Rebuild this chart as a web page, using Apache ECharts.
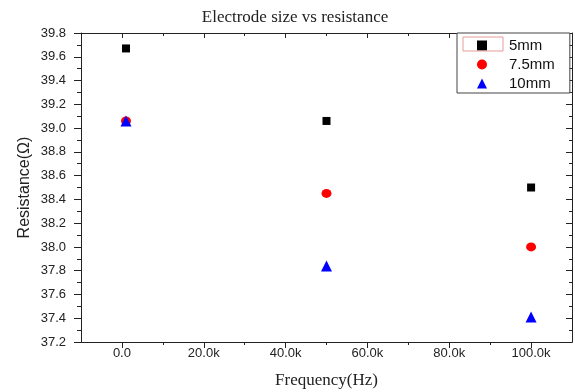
<!DOCTYPE html>
<html>
<head>
<meta charset="utf-8">
<script src="https://cdn.jsdelivr.net/npm/echarts@6/dist/echarts.min.js"></script>
<style>
  html, body { margin: 0; padding: 0; background: #fff; }
  #chart { width: 575px; height: 392px; }
</style>
</head>
<body>
<div id="chart"></div>
<script>
// frequency (Hz) of each measurement
const freq = [1000, 50000, 100000]
const seriesNames = ['5mm', '7.5mm', '10mm']
const r5 = [39.67, 39.06, 38.50]
const r75 = [39.06, 38.45, 38.00]
const r10 = [39.06, 37.84, 37.41]

const xMajor = [0, 20000, 40000, 60000, 80000, 100000]
const xMinor = [10000, 30000, 50000, 70000, 90000]

const chart = echarts.init(document.getElementById('chart'))

const xBase = {
  type: 'value',
  min: -10000,
  max: 110000,
  splitLine: { show: false },
  axisLine: { show: true, onZero: false, lineStyle: { color: '#222', width: 1 } },
}

const sansLabel = { fontFamily: 'Liberation Sans', fontSize: 13, color: '#222' }

chart.setOption({
  animation: false,
  title: {
    text: 'Electrode size vs resistance',
    left: 290,
    textAlign: 'center',
    top: 4,
    textStyle: { fontFamily: 'Liberation Serif', fontSize: 17, fontWeight: 'normal', color: '#222' }
  },
  grid: { left: 81, right: 3, top: 33, bottom: 50, outerBoundsMode: 'none' },
  legend: {
    orient: 'vertical',
    left: 457,
    top: 33,
    padding: [5, 15, 2, 20],
    borderColor: '#444',
    borderWidth: 1,
    backgroundColor: '#fff',
    itemWidth: 10,
    itemHeight: 10,
    itemGap: 4,
    data: seriesNames,
    textStyle: { fontFamily: 'Liberation Sans', fontSize: 15, lineHeight: 15, color: '#111', padding: [0, 0, 0, 17] }
  },
  xAxis: [
    {
      ...xBase,
      position: 'bottom',
      name: 'Frequency(Hz)',
      nameLocation: 'middle',
      nameGap: 30,
      nameMoveOverlap: false,
      nameTextStyle: { fontFamily: 'Liberation Serif', fontSize: 17, color: '#222' },
      axisTick: { show: true, customValues: xMajor, length: 6, lineStyle: { color: '#222' } },
      axisLabel: {
        ...sansLabel,
        customValues: xMajor,
        margin: 5,
        formatter: v => v === 0 ? '0.0' : (v / 1000).toFixed(1) + 'k'
      }
    },
    {
      ...xBase,
      position: 'bottom',
      axisTick: { show: true, customValues: xMinor, length: 3, lineStyle: { color: '#222' } },
      axisLabel: { show: false }
    },
    {
      ...xBase,
      position: 'top',
      axisTick: { show: true, inside: true, customValues: xMajor, length: 5, lineStyle: { color: '#222' } },
      axisLabel: { show: false }
    },
    {
      ...xBase,
      position: 'top',
      axisTick: { show: true, inside: true, customValues: xMinor, length: 3, lineStyle: { color: '#222' } },
      axisLabel: { show: false }
    }
  ],
  yAxis: [
    {
      type: 'value',
      min: 37.2,
      max: 39.8,
      interval: 0.2,
      position: 'left',
      name: 'Resistance(Ω)',
      nameLocation: 'middle',
      nameGap: 48,
      nameMoveOverlap: false,
      nameTextStyle: { fontFamily: 'Liberation Sans', fontSize: 16, color: '#222' },
      splitLine: { show: false },
      axisLine: { show: true, onZero: false, lineStyle: { color: '#222' } },
      axisTick: { show: true, length: 7, lineStyle: { color: '#222' } },
      minorTick: { show: true, splitNumber: 2, length: 4, lineStyle: { color: '#222' } },
      axisLabel: { ...sansLabel, margin: 15, formatter: v => v.toFixed(1) }
    },
    {
      type: 'value',
      min: 37.2,
      max: 39.8,
      interval: 0.2,
      position: 'right',
      splitLine: { show: false },
      axisLine: { show: true, onZero: false, lineStyle: { color: '#222' } },
      axisTick: { show: true, inside: true, length: 6, lineStyle: { color: '#222' } },
      minorTick: { show: true, splitNumber: 2, length: 3, lineStyle: { color: '#222' } },
      axisLabel: { show: false }
    }
  ],
  graphic: [
    {
      type: 'rect',
      z: 100,
      shape: { x: 463, y: 37, width: 40, height: 14 },
      style: { fill: 'none', stroke: '#e89a9a', lineWidth: 1 }
    }
  ],
  series: [
    {
      name: seriesNames[0],
      type: 'scatter',
      symbol: 'rect',
      symbolSize: 8,
      itemStyle: { color: '#000', opacity: 1 },
      data: freq.map((f, i) => [f, r5[i]])
    },
    {
      name: seriesNames[1],
      type: 'scatter',
      symbol: 'circle',
      symbolSize: [10, 9],
      itemStyle: { color: '#ff0000', opacity: 1 },
      data: freq.map((f, i) => [f, r75[i]])
    },
    {
      name: seriesNames[2],
      type: 'scatter',
      symbol: 'triangle',
      symbolSize: 11,
      itemStyle: { color: '#0000ff', opacity: 1 },
      data: freq.map((f, i) => [f, r10[i]])
    }
  ]
})
</script>
</body>
</html>
